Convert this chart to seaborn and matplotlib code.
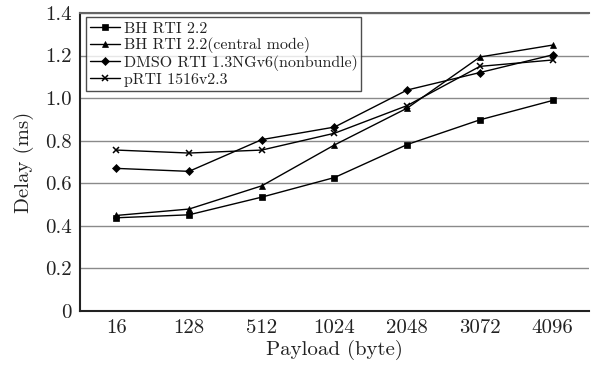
import matplotlib
matplotlib.use("Agg")
import matplotlib.pyplot as plt
from matplotlib.ticker import FixedLocator, FuncFormatter
import seaborn as sns
import pandas as pd

payloads = ["16", "128", "512", "1024", "2048", "3072", "4096"]
bh_rti = [0.438, 0.452, 0.535, 0.627, 0.782, 0.898, 0.989]
bh_rti_central = [0.449, 0.479, 0.588, 0.780, 0.953, 1.193, 1.249]
dmso_rti = [0.670, 0.656, 0.805, 0.864, 1.038, 1.120, 1.203]
prti = [0.756, 0.742, 0.756, 0.835, 0.965, 1.149, 1.179]

series_names = ["BH RTI 2.2", "BH RTI 2.2(central mode)",
                "DMSO RTI 1.3NGv6(nonbundle)", "pRTI 1516v2.3"]
series_values = [bh_rti, bh_rti_central, dmso_rti, prti]
y_ticks = [0, 0.2, 0.4, 0.6, 0.8, 1.0, 1.2, 1.4]

rows = []
for name, vals in zip(series_names, series_values):
    for i, (p, v) in enumerate(zip(payloads, vals)):
        rows.append({"idx": i, "payload": p, "delay": v, "series": name})
df = pd.DataFrame(rows)

sns.set_theme(style="white")
plt.rcParams["font.family"] = ["cmr10", "DejaVu Serif"]
plt.rcParams["axes.formatter.use_mathtext"] = True
plt.rcParams["mathtext.fontset"] = "cm"

fig = plt.figure(figsize=(5.92, 3.69), dpi=100)
ax = fig.add_axes([0.135, 0.157, 0.86, 0.808])

markers = {series_names[0]: "s", series_names[1]: "^",
           series_names[2]: "D", series_names[3]: "x"}
sizes = {series_names[0]: 4.3, series_names[1]: 5.0,
         series_names[2]: 3.6, series_names[3]: 5.0}

for name in series_names:
    sub = df[df["series"] == name]
    sns.lineplot(data=sub, x="idx", y="delay", ax=ax, color="black",
                 linewidth=1.0, marker=markers[name], markersize=sizes[name],
                 markeredgewidth=1.1 if markers[name] == "x" else 0.5,
                 markeredgecolor="black", label=name)

ax.set_xlim(-0.5, 6.5)
ax.set_ylim(0, 1.4)
ax.set_xticks(range(len(payloads)))
ax.set_xticklabels(payloads)
ax.xaxis.set_minor_locator(FixedLocator([i + 0.5 for i in range(len(payloads) - 1)]))
ax.tick_params(axis="x", which="major", length=0, labelsize=15, pad=6, colors="#222222")
ax.tick_params(axis="x", which="minor", length=3, direction="in", width=0.8, color="#777777")
ax.tick_params(axis="y", which="major", length=0, labelsize=15, pad=6, colors="#222222")
ax.set_yticks(y_ticks)
ax.yaxis.set_major_formatter(FuncFormatter(lambda v, p: "0" if abs(v) < 1e-9 else f"{v:.1f}"))

ax.grid(axis="y", color="#8a8a8a", linewidth=1.0)
ax.grid(axis="x", visible=False)
ax.set_axisbelow(True)

for s in ["left", "bottom"]:
    ax.spines[s].set_color("#222222")
    ax.spines[s].set_linewidth(1.5)
ax.spines["top"].set_color("#666666")
ax.spines["top"].set_linewidth(1.5)
ax.spines["right"].set_visible(False)

ax.set_xlabel("Payload (byte)", fontsize=15, color="#222222", labelpad=2)
ax.set_ylabel("Delay (ms)", fontsize=15, color="#222222", labelpad=8)

leg = ax.legend(loc="upper left", bbox_to_anchor=(0.012, 0.985), fontsize=11.5,
                frameon=True, fancybox=False, edgecolor="#222222",
                handlelength=1.9, handletextpad=0.2, labelspacing=0.1,
                borderpad=0.25, borderaxespad=0.0)
leg.get_frame().set_linewidth(1.0)
for t in leg.get_texts():
    t.set_color("#222222")

fig.savefig("out.png", dpi=100)
